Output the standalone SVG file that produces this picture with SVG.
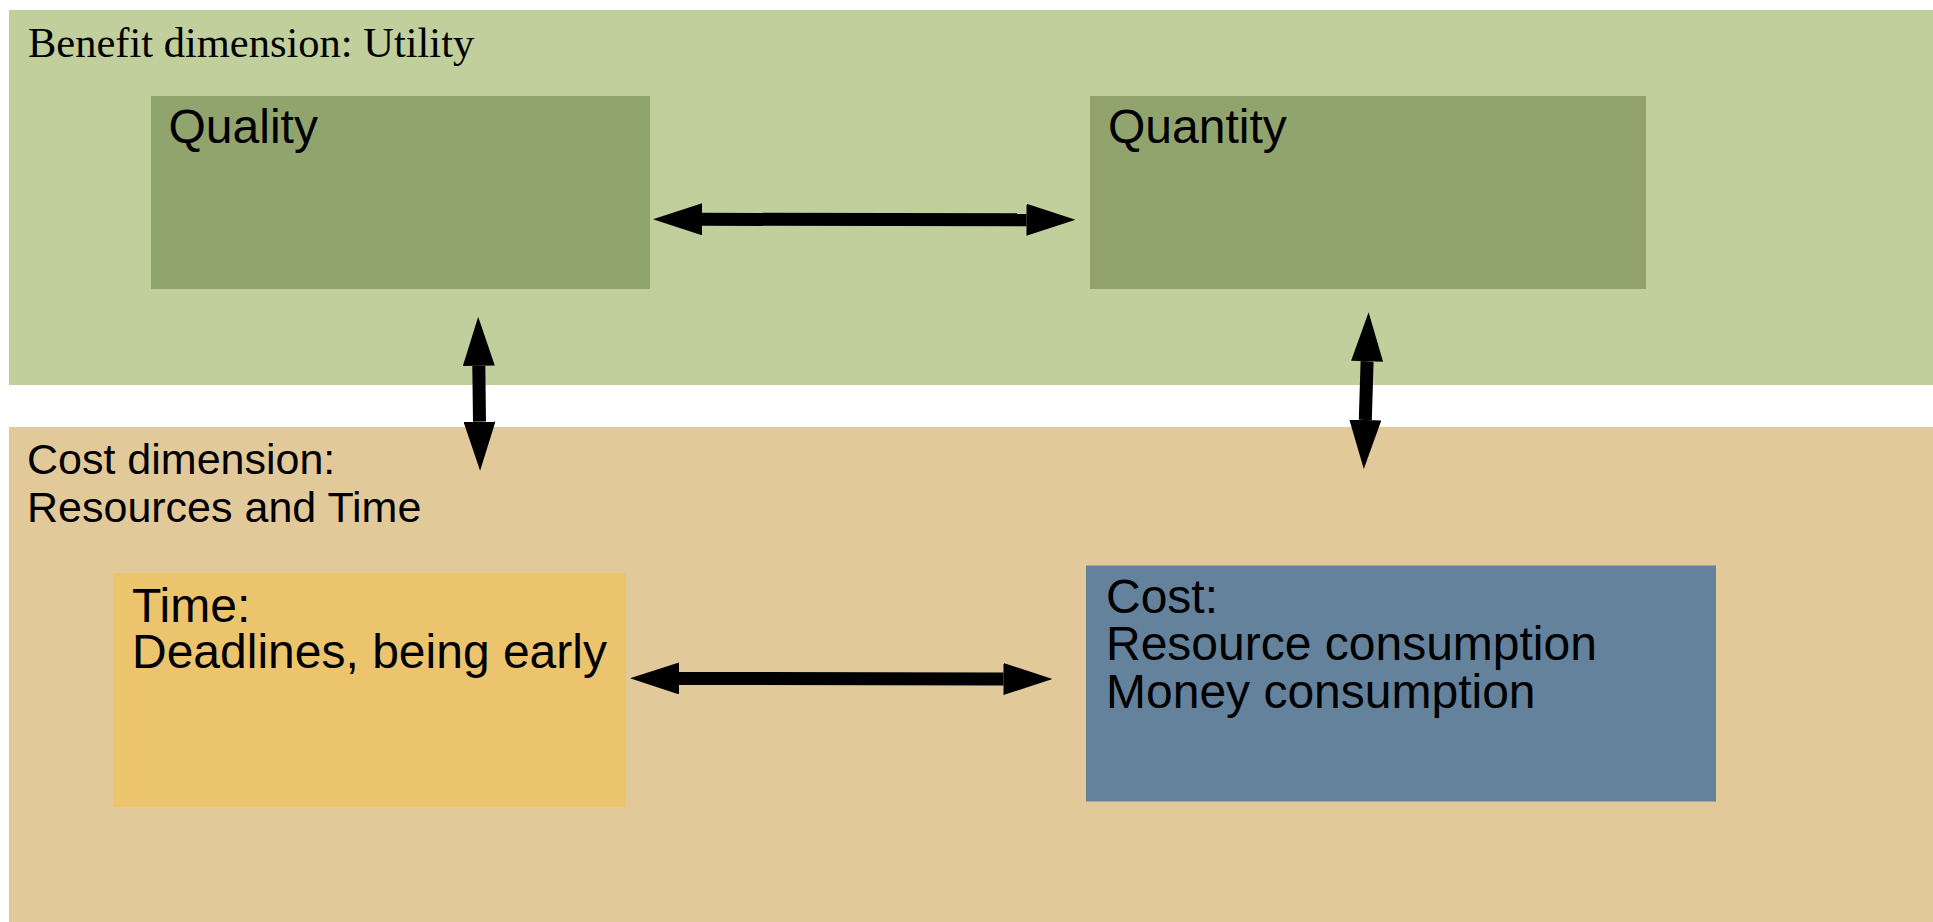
<svg xmlns="http://www.w3.org/2000/svg" width="1933" height="922" viewBox="0 0 1933 922">
  <style>
    .sans { font-family: "Liberation Sans", Arial, sans-serif; fill: #000; }
    .serif { font-family: "Liberation Serif", "Times New Roman", serif; fill: #000; }
    .big { font-size: 48px; }
    .mid { font-size: 43px; }
    .conn { stroke: #000; stroke-width: 13; fill: none; marker-start: url(#head); marker-end: url(#head); }
  </style>
  <defs>
    <marker id="head" viewBox="0 0 49 32" markerWidth="49" markerHeight="32" markerUnits="userSpaceOnUse" refX="0" refY="16" orient="auto-start-reverse">
      <path d="M0,0 L49,16 L0,32 z" fill="#000"/>
    </marker>
  </defs>

  <rect width="1933" height="922" fill="#ffffff"/>

  <!-- benefit band -->
  <g id="benefit">
    <rect x="9" y="10" width="1924" height="375" fill="#C1CF9C"/>
    <text class="serif" font-size="42.5" x="28" y="57">Benefit dimension: Utility</text>
  </g>

  <!-- cost band -->
  <g id="costdim">
    <rect x="9" y="427" width="1924" height="495" fill="#E2C99A"/>
    <text class="sans mid" x="27" y="474">Cost dimension:</text>
    <text class="sans mid" x="27" y="522">Resources and Time</text>
  </g>

  <g id="quality">
    <rect x="151" y="96" width="499" height="193" fill="#92A46D"/>
    <text class="sans big" x="168.5" y="142.7">Quality</text>
  </g>

  <g id="quantity">
    <rect x="1090" y="96" width="556" height="193" fill="#92A46D"/>
    <text class="sans big" x="1108" y="142.7">Quantity</text>
  </g>

  <g id="time">
    <rect x="113" y="573" width="513" height="234" fill="#ECC46E"/>
    <text class="sans big" x="132" y="621.7">Time:</text>
    <text class="sans big" x="132" y="668.3">Deadlines, being early</text>
  </g>

  <g id="cost">
    <rect x="1086" y="565.5" width="630" height="236" fill="#64829C"/>
    <text class="sans big" x="1106" y="612.7">Cost:</text>
    <text class="sans big" x="1106" y="660">Resource consumption</text>
    <text class="sans big" x="1106" y="708">Money consumption</text>
  </g>

  <!-- double-headed connectors -->
  <g id="connectors">
    <line class="conn" x1="702" y1="219.3" x2="1026.5" y2="219.7"/>
    <line class="conn" x1="679" y1="678.4" x2="1003.5" y2="679"/>
    <line class="conn" x1="478.8" y1="365.8" x2="479.5" y2="421.7"/>
    <line class="conn" x1="1367.1" y1="361.3" x2="1365.3" y2="420"/>
  </g>
</svg>
